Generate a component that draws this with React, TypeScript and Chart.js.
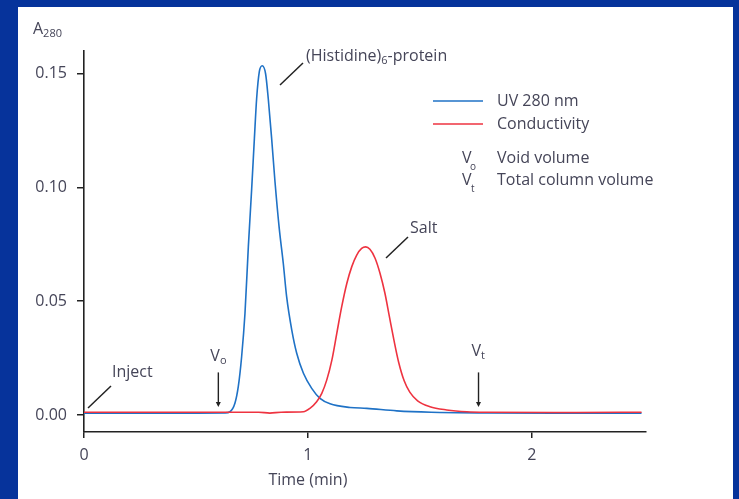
import React, { useEffect, useRef } from "react";
import { Chart, registerables } from "chart.js";

Chart.register(...registerables);

// UV 280 nm trace: time (min) and absorbance
const uvTime = [0, 0.5, 0.63, 0.652, 0.674, 0.689, 0.704, 0.719, 0.734, 0.749, 0.761, 0.771, 0.783, 0.796, 0.811, 0.823, 0.838, 0.853, 0.872, 0.89, 0.905, 0.928, 0.95, 0.98, 1.017, 1.054, 1.099, 1.188, 1.263, 1.397, 1.55, 1.8, 2.2, 2.49];
const uvValues = [0.0008, 0.0008, 0.0009, 0.0014, 0.0051, 0.0124, 0.0256, 0.0447, 0.074, 0.0996, 0.1216, 0.139, 0.1509, 0.1535, 0.15, 0.139, 0.1216, 0.1025, 0.082, 0.0667, 0.052, 0.0373, 0.0271, 0.0183, 0.0117, 0.0073, 0.0049, 0.0033, 0.0029, 0.0018, 0.0012, 0.0009, 0.0008, 0.0008];

// Conductivity trace (scaled to A280 axis)
const condTime = [0, 0.5, 0.78, 0.83, 0.88, 0.98, 1.009, 1.039, 1.062, 1.084, 1.107, 1.129, 1.151, 1.174, 1.196, 1.218, 1.24, 1.258, 1.277, 1.3, 1.322, 1.344, 1.364, 1.384, 1.405, 1.43, 1.455, 1.49, 1.545, 1.62, 1.71, 1.8, 2.2, 2.49];
const condValues = [0.0012, 0.0012, 0.0012, 0.0008, 0.0012, 0.0014, 0.0029, 0.0058, 0.0095, 0.0153, 0.0241, 0.0359, 0.0476, 0.0579, 0.0652, 0.0703, 0.0732, 0.0739, 0.0728, 0.0689, 0.0623, 0.0535, 0.0432, 0.033, 0.0233, 0.015, 0.01, 0.0062, 0.0036, 0.0022, 0.0014, 0.0012, 0.0011, 0.0012];

const seriesLabels = ["UV 280 nm", "Conductivity"];
const seriesColors = ["#1f72c6", "#ee3340"];

const xTicks = [0, 1, 2];
const yTicks = [0, 0.05, 0.1, 0.15];

const FONT = "'Open Sans', sans-serif";
const TEXT = "#454558";
const FS = 16;

function drawSub(ctx: CanvasRenderingContext2D, parts: [string, boolean][], x: number, y: number, size: number) {
  let cx = x;
  for (const [t, sub] of parts) {
    ctx.font = `${sub ? Math.round(size * 0.66) : size}px ${FONT}`;
    ctx.fillText(t, cx, sub ? y + size * 0.3 : y);
    cx += ctx.measureText(t).width;
  }
}

function line(ctx: CanvasRenderingContext2D, x1: number, y1: number, x2: number, y2: number, w = 1.5) {
  ctx.beginPath();
  ctx.lineWidth = w;
  ctx.moveTo(x1, y1);
  ctx.lineTo(x2, y2);
  ctx.stroke();
}

function arrowDown(ctx: CanvasRenderingContext2D, x: number, y1: number, y2: number) {
  line(ctx, x, y1, x, y2 - 2, 1.4);
  ctx.beginPath();
  ctx.moveTo(x - 2.5, y2 - 5);
  ctx.lineTo(x + 2.5, y2 - 5);
  ctx.lineTo(x, y2);
  ctx.closePath();
  ctx.fill();
}

const annotationPlugin = {
  id: "annotations",
  afterDraw(chart: any) {
    const ctx: CanvasRenderingContext2D = chart.ctx;
    const xs = chart.scales.x;
    const ys = chart.scales.y;
    ctx.save();
    ctx.textBaseline = "middle";
    ctx.textAlign = "left";
    ctx.fillStyle = TEXT;
    ctx.strokeStyle = "#222";

    // y axis title A280
    drawSub(ctx, [["A", false], ["280", true]], 33, 29, FS);

    // x axis title
    ctx.font = `${FS}px ${FONT}`;
    ctx.textAlign = "center";
    ctx.fillText("Time (min)", xs.getPixelForValue(1), 480);
    ctx.textAlign = "left";

    // peak labels
    line(ctx, 280, 85, 303, 63);
    ctx.fillStyle = TEXT;
    drawSub(ctx, [["(Histidine)", false], ["6", true], ["-protein", false]], 306, 56, FS);
    line(ctx, 386, 258, 408, 237);
    ctx.font = `${FS}px ${FONT}`;
    ctx.fillText("Salt", 410, 228);

    // Inject
    line(ctx, 88, 408, 111, 386);
    ctx.font = `${FS}px ${FONT}`;
    ctx.fillText("Inject", 112, 372);

    // Vo and Vt arrows
    ctx.fillStyle = "#222";
    const vo = xs.getPixelForValue(0.6);
    const vt = xs.getPixelForValue(1.762);
    const yTop = ys.getPixelForValue(0.0187);
    const yBot = ys.getPixelForValue(0.0035);
    arrowDown(ctx, vo, yTop, yBot);
    arrowDown(ctx, vt, yTop, yBot);
    ctx.fillStyle = TEXT;
    drawSub(ctx, [["V", false], ["o", true]], vo - 8, 356, FS);
    drawSub(ctx, [["V", false], ["t", true]], vt - 7, 351, FS);

    // legend
    const lx1 = 433, lx2 = 483, tx = 497;
    const ly = [101, 124];
    for (let i = 0; i < seriesLabels.length; i++) {
      ctx.strokeStyle = seriesColors[i];
      line(ctx, lx1, ly[i], lx2, ly[i], 1.6);
      ctx.fillStyle = TEXT;
      ctx.font = `${FS}px ${FONT}`;
      ctx.fillText(seriesLabels[i], tx, ly[i]);
    }
    ctx.font = `${FS}px ${FONT}`;
    ctx.fillText("V", 462, 158);
    ctx.fillText("V", 462, 180);
    ctx.font = `10px ${FONT}`;
    ctx.fillText("o", 470, 167);
    ctx.fillText("t", 471, 189);
    ctx.font = `${FS}px ${FONT}`;
    ctx.fillText("Void volume", tx, 158);
    ctx.fillText("Total column volume", tx, 180);

    ctx.restore();
  },
};

export default function App() {
  const ref = useRef<HTMLCanvasElement>(null);

  useEffect(() => {
    if (!ref.current) return;
    const chart = new Chart(ref.current, {
      type: "line",
      data: {
        datasets: [
          {
            label: seriesLabels[1],
            data: condTime.map((t, i) => ({ x: t, y: condValues[i] })),
            borderColor: seriesColors[1],
            borderWidth: 1.6,
            pointRadius: 0,
            cubicInterpolationMode: "monotone",
            fill: false,
          },
          {
            label: seriesLabels[0],
            data: uvTime.map((t, i) => ({ x: t, y: uvValues[i] })),
            borderColor: seriesColors[0],
            borderWidth: 1.6,
            pointRadius: 0,
            cubicInterpolationMode: "monotone",
            fill: false,
          },
        ],
      },
      options: {
        responsive: false,
        animation: false,
        devicePixelRatio: 1,
        layout: { padding: { top: 51, right: 93, left: 0, bottom: 0 } },
        plugins: { legend: { display: false }, tooltip: { enabled: false } },
        scales: {
          x: {
            type: "linear",
            min: 0,
            max: 2.51,
            afterFit: (s: any) => {
              s.height = 67;
            },
            afterBuildTicks: (s: any) => {
              s.ticks = xTicks.map((v) => ({ value: v }));
            },
            grid: { display: true, drawOnChartArea: false, drawTicks: true, tickLength: 6, color: "#222", lineWidth: 1.5 },
            border: { display: true, color: "#222", width: 1.6 },
            ticks: { color: TEXT, font: { family: FONT, size: FS }, padding: 8, callback: (v: any) => String(v) },
          },
          y: {
            type: "linear",
            min: -0.0075,
            max: 0.16,
            afterFit: (s: any) => {
              s.width = 84;
            },
            afterBuildTicks: (s: any) => {
              s.ticks = yTicks.map((v) => ({ value: v }));
            },
            grid: { display: true, drawOnChartArea: false, drawTicks: true, tickLength: 7, color: "#222", lineWidth: 1.5 },
            border: { display: true, color: "#222", width: 1.6 },
            ticks: { color: TEXT, font: { family: FONT, size: FS }, padding: 10, callback: (v: any) => Number(v).toFixed(2) },
          },
        },
      },
      plugins: [annotationPlugin],
    });
    return () => chart.destroy();
  }, []);

  return (
    <div style={{ position: "fixed", left: 0, top: 0, width: 739, height: 499, background: "#06339b", overflow: "hidden" }}>
      <div style={{ position: "absolute", left: 18, top: 7, width: 715, height: 492, background: "#ffffff" }} />
      <canvas ref={ref} width={739} height={499} style={{ position: "absolute", left: 0, top: 0, width: 739, height: 499 }} />
    </div>
  );
}
